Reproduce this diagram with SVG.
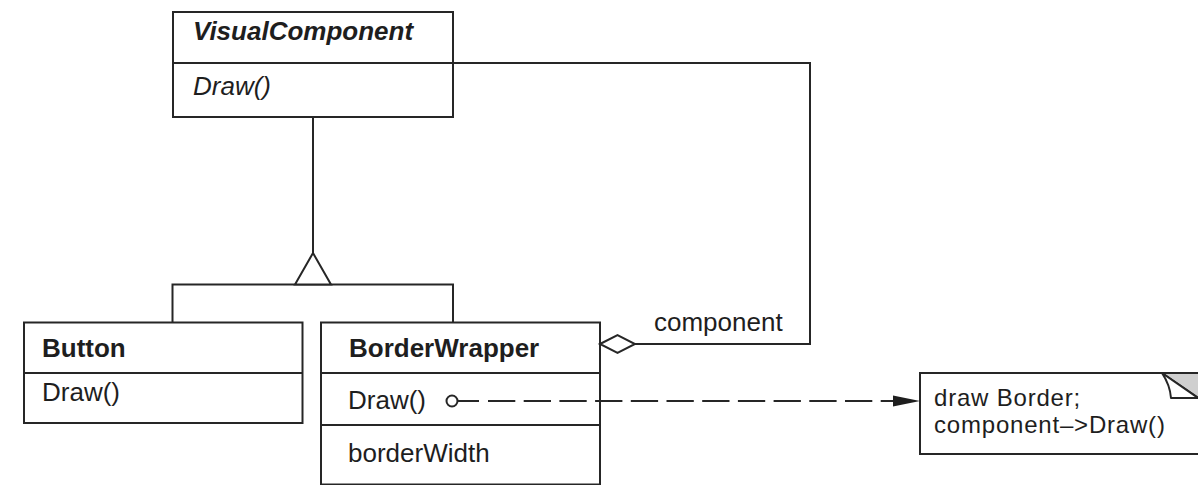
<svg xmlns="http://www.w3.org/2000/svg" width="1198" height="485" viewBox="0 0 1198 485">
  <style>
    .box { fill: #ffffff; stroke: #262626; stroke-width: 2; }
    .line { fill: none; stroke: #262626; stroke-width: 2; }
    .dash { fill: none; stroke: #262626; stroke-width: 2; stroke-dasharray: 27.3 8.4; }
    .head { fill: #ffffff; stroke: #262626; stroke-width: 2; stroke-linejoin: miter; }
    text { font-family: "Liberation Sans", Arial, Helvetica, sans-serif; font-size: 26px; fill: #1e1e1e; }
    .name { font-weight: bold; }
    .abstract { font-style: italic; }
    .note { font-size: 24px; letter-spacing: 0.8px; }
  </style>

  <rect x="0" y="0" width="1198" height="485" fill="#ffffff"/>

  <!-- abstract base class -->
  <g id="VisualComponent">
    <rect class="box" x="173" y="12" width="280" height="105"/>
    <line class="line" x1="173" y1="63" x2="453" y2="63"/>
    <text class="name abstract" x="193" y="40">VisualComponent</text>
    <text class="abstract" x="193" y="95">Draw()</text>
  </g>

  <g id="Button">
    <rect class="box" x="24" y="322.5" width="278.5" height="100.5"/>
    <line class="line" x1="24" y1="373" x2="302.5" y2="373"/>
    <text class="name" x="42" y="356.5">Button</text>
    <text x="42" y="400.5">Draw()</text>
  </g>

  <g id="BorderWrapper">
    <rect class="box" x="321" y="322.5" width="279" height="162"/>
    <line class="line" x1="321" y1="373" x2="600" y2="373"/>
    <line class="line" x1="321" y1="425" x2="600" y2="425"/>
    <text class="name" x="349" y="356.5">BorderWrapper</text>
    <text x="348" y="409">Draw()</text>
    <text x="348" y="462">borderWidth</text>
  </g>

  <!-- implementation note with folded corner -->
  <g id="DrawNote">
    <rect class="box" x="920" y="373" width="290" height="81"/>
    <polygon points="1162,373 1200,373 1200,399" fill="#cfcfcf" stroke="#262626" stroke-width="2"/>
    <path d="M1162,373 L1198,398 L1171,398 Q1170,385 1162,373 Z" fill="#ffffff" stroke="#262626" stroke-width="2" stroke-linejoin="round"/>
    <text class="note" x="934" y="406">draw Border;</text>
    <text class="note" x="934" y="433">component–&gt;Draw()</text>
  </g>

  <!-- connectors, drawn over the boxes -->
  <g id="connectors">
    <!-- generalization: Button / BorderWrapper -> VisualComponent -->
    <line class="line" x1="313" y1="117" x2="313" y2="253"/>
    <polyline class="line" points="172.5,322.5 172.5,284.5 453,284.5 453,322.5"/>
    <polygon class="head" points="313,253 295,284.5 331,284.5"/>

    <!-- aggregation: BorderWrapper holds a VisualComponent -->
    <polyline class="line" points="453,63 810,63 810,344 635,344"/>
    <polygon class="head" points="600,344 617.5,335 635,344 617.5,353"/>
    <text x="654" y="331">component</text>

    <!-- note attached to BorderWrapper::Draw() -->
    <line class="line" x1="457.5" y1="401" x2="479" y2="401"/>
    <line class="dash" x1="488" y1="401" x2="894" y2="401"/>
    <polygon points="893,395.5 920,401 893,406.5" fill="#1e1e1e"/>
    <circle class="box" cx="452" cy="401" r="5.5"/>
  </g>
</svg>
